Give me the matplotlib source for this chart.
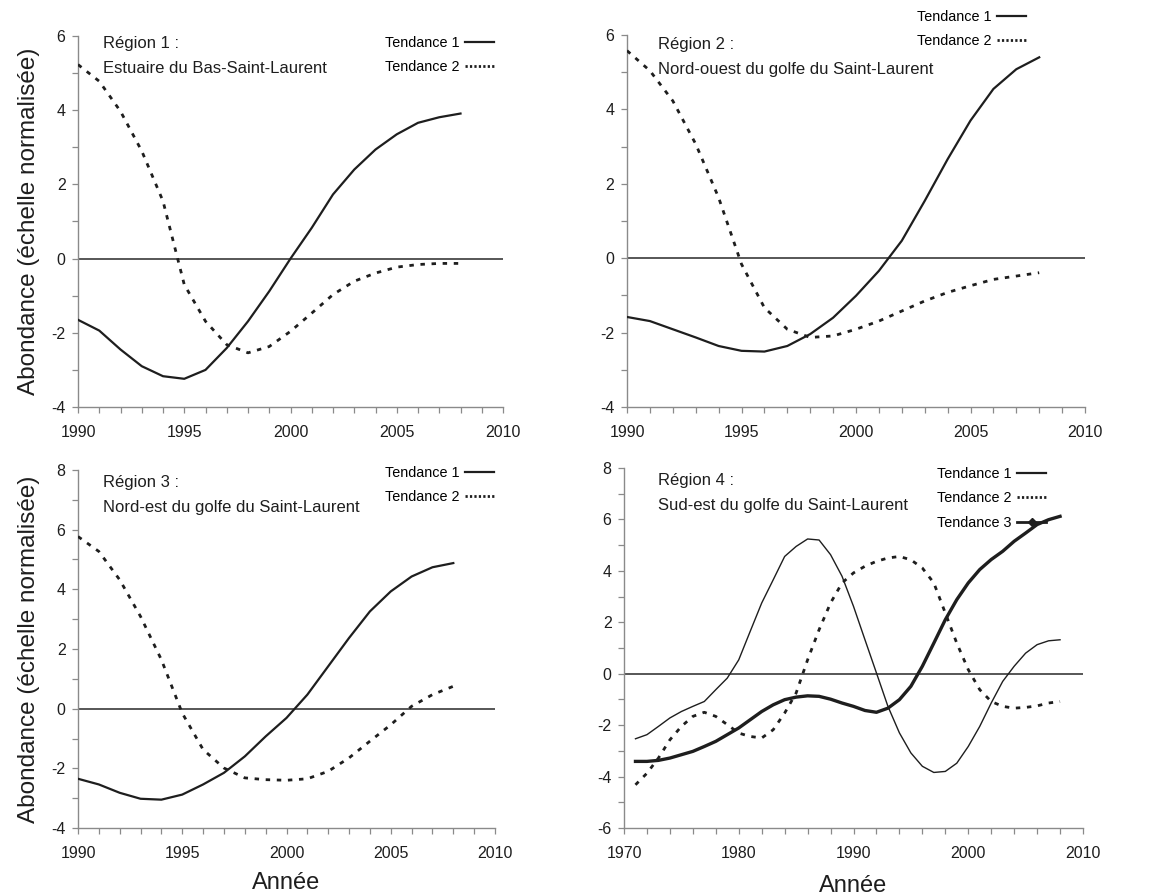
import matplotlib
matplotlib.use("Agg")
import matplotlib.pyplot as plt
from matplotlib.lines import Line2D
from matplotlib.ticker import MultipleLocator

plt.rcParams['font.family'] = ['Liberation Sans', 'DejaVu Sans']
plt.rcParams['axes.unicode_minus'] = False

# ---- data -------------------------------------------------------------
years_9008 = list(range(1990, 2009))
years_7108 = list(range(1971, 2009))

r1_t1 = [-1.65, -1.94, -2.45, -2.90, -3.17, -3.24, -3.00, -2.41, -1.69, -0.88,
         0.00, 0.83, 1.73, 2.40, 2.94, 3.35, 3.66, 3.81, 3.91]
r1_t2 = [5.23, 4.78, 3.97, 2.90, 1.55, -0.70, -1.69, -2.32, -2.54, -2.37,
         -1.96, -1.47, -0.97, -0.61, -0.39, -0.23, -0.16, -0.13, -0.13]

r2_t1 = [-1.58, -1.69, -1.91, -2.13, -2.36, -2.49, -2.51, -2.36, -2.04, -1.60,
         -1.01, -0.34, 0.47, 1.54, 2.66, 3.70, 4.55, 5.08, 5.40]
r2_t2 = [5.58, 5.04, 4.23, 3.07, 1.63, -0.16, -1.33, -1.91, -2.13, -2.09,
         -1.91, -1.69, -1.42, -1.15, -0.92, -0.74, -0.57, -0.48, -0.39]

r3_t1 = [-2.35, -2.54, -2.82, -3.02, -3.05, -2.88, -2.54, -2.15, -1.60, -0.93,
         -0.31, 0.47, 1.42, 2.37, 3.26, 3.93, 4.43, 4.74, 4.88]
r3_t2 = [5.77, 5.27, 4.32, 3.09, 1.64, -0.15, -1.37, -1.99, -2.32, -2.38,
         -2.40, -2.35, -2.10, -1.65, -1.09, -0.54, 0.08, 0.47, 0.75]

r4_t1 = [-2.53, -2.37, -2.05, -1.72, -1.47, -1.27, -1.08, -0.62, -0.17, 0.54,
         1.65, 2.75, 3.65, 4.56, 4.95, 5.24, 5.20, 4.63, 3.79, 2.62,
         1.32, 0.03, -1.27, -2.30, -3.08, -3.60, -3.84, -3.80, -3.48, -2.83,
         -2.05, -1.14, -0.30, 0.29, 0.80, 1.13, 1.28, 1.32]
r4_t2 = [-4.32, -3.87, -3.28, -2.57, -2.05, -1.66, -1.50, -1.66, -1.98, -2.31,
         -2.44, -2.50, -2.18, -1.53, -0.75, 0.54, 1.71, 2.75, 3.53, 3.92,
         4.18, 4.37, 4.50, 4.56, 4.43, 4.11, 3.53, 2.36, 1.19, 0.16,
         -0.62, -1.08, -1.27, -1.34, -1.31, -1.25, -1.14, -1.08]
r4_t3 = [-3.41, -3.41, -3.37, -3.28, -3.15, -3.02, -2.83, -2.63, -2.37, -2.11,
         -1.79, -1.47, -1.21, -1.01, -0.91, -0.86, -0.88, -0.99, -1.14, -1.27,
         -1.43, -1.50, -1.34, -1.01, -0.49, 0.29, 1.19, 2.10, 2.88, 3.53,
         4.05, 4.44, 4.76, 5.15, 5.47, 5.80, 5.99, 6.12]

region_titles = [
    ("Région 1 :", "Estuaire du Bas-Saint-Laurent"),
    ("Région 2 :", "Nord-ouest du golfe du Saint-Laurent"),
    ("Région 3 :", "Nord-est du golfe du Saint-Laurent"),
    ("Région 4 :", "Sud-est du golfe du Saint-Laurent"),
]
legend_labels = ["Tendance 1", "Tendance 2", "Tendance 3"]
y_label = "Abondance (échelle normalisée)"
x_label = "Année"

# ---- styling ----------------------------------------------------------
W, H = 1158, 896
INK = "#1e1e1e"
AXIS_GRAY = "#8a8a8a"
DOTTED = (0, (1.6, 2.4))

fig = plt.figure(figsize=(W / 100, H / 100), dpi=100)


def add_axes_px(left, top, right, bottom):
    return fig.add_axes([left / W, 1 - bottom / H, (right - left) / W, (bottom - top) / H])


def style_axes(ax, xlim, ylim, xmaj, xmin, ymaj, ymin):
    ax.set_xlim(*xlim)
    ax.set_ylim(*ylim)
    ax.xaxis.set_major_locator(MultipleLocator(xmaj))
    ax.xaxis.set_minor_locator(MultipleLocator(xmin))
    ax.yaxis.set_major_locator(MultipleLocator(ymaj))
    ax.yaxis.set_minor_locator(MultipleLocator(ymin))
    for side in ("top", "right"):
        ax.spines[side].set_visible(False)
    for side in ("left", "bottom"):
        ax.spines[side].set_color(AXIS_GRAY)
        ax.spines[side].set_linewidth(1.0)
    ax.tick_params(which="both", direction="out", length=4, width=0.9,
                   color=AXIS_GRAY, labelsize=11.5, labelcolor=INK)
    ax.tick_params(axis="x", which="major", pad=9)
    ax.tick_params(axis="y", which="major", pad=5)
    ax.axhline(0, color="#3a3a3a", lw=1.2, zorder=1)


def add_title(ax, lines, x, y):
    ax.text(x, y, lines[0], transform=ax.transAxes, fontsize=12, color=INK, va="center")
    ax.text(x, y - 25 / (ax.get_position().height * H), lines[1],
            transform=ax.transAxes, fontsize=12, color=INK, va="center")


def add_legend(ax, handles, anchor_px):
    fig_x, fig_y = anchor_px
    ax.legend(handles=handles, loc="upper right",
              bbox_to_anchor=(fig_x / W, 1 - fig_y / H), bbox_transform=fig.transFigure,
              frameon=False, markerfirst=False, fontsize=10.4, handlelength=2.0,
              handletextpad=0.4, labelspacing=0.72, borderaxespad=0, borderpad=0)


h_solid = Line2D([], [], color=INK, lw=1.6, label=legend_labels[0])
h_dot = Line2D([], [], color=INK, lw=2.0, ls=(0, (0.8, 0.8)), label=legend_labels[1])
h_diam = Line2D([], [], color=INK, lw=2.0, marker="D", markersize=4, label=legend_labels[2])

# ---- Region 1 ---------------------------------------------------------
ax1 = add_axes_px(78, 36, 503, 407)
style_axes(ax1, (1990, 2010), (-4, 6), 5, 1, 2, 1)
ax1.plot(years_9008, r1_t1, color=INK, lw=1.6, zorder=3)
ax1.plot(years_9008, r1_t2, color=INK, lw=2.0, ls=DOTTED, zorder=3)
add_title(ax1, region_titles[0], 0.058, 0.98)
add_legend(ax1, [h_solid, h_dot], (494, 36))
ax1.set_ylabel(y_label, fontsize=17.5, color=INK, labelpad=8)

# ---- Region 2 ---------------------------------------------------------
ax2 = add_axes_px(627, 35, 1085, 407)
style_axes(ax2, (1990, 2010), (-4, 6), 5, 1, 2, 1)
ax2.plot(years_9008, r2_t1, color=INK, lw=1.6, zorder=3)
ax2.plot(years_9008, r2_t2, color=INK, lw=2.0, ls=DOTTED, zorder=3)
add_title(ax2, region_titles[1], 0.068, 0.975)
add_legend(ax2, [h_solid, h_dot], (1026, 10))

# ---- Region 3 ---------------------------------------------------------
ax3 = add_axes_px(78, 470, 495, 828)
style_axes(ax3, (1990, 2010), (-4, 8), 5, 1, 2, 1)
ax3.plot(years_9008, r3_t1, color=INK, lw=1.6, zorder=3)
ax3.plot(years_9008, r3_t2, color=INK, lw=2.0, ls=DOTTED, zorder=3)
add_title(ax3, region_titles[2], 0.06, 0.965)
add_legend(ax3, [h_solid, h_dot], (494, 466))
ax3.set_ylabel(y_label, fontsize=17.5, color=INK, labelpad=8)
ax3.set_xlabel(x_label, fontsize=17, color=INK, labelpad=8)

# ---- Region 4 ---------------------------------------------------------
ax4 = add_axes_px(624, 468, 1083, 828)
style_axes(ax4, (1970, 2010), (-6, 8), 10, 2, 2, 1)
ax4.plot(years_7108, r4_t1, color=INK, lw=1.0, zorder=3)
ax4.plot(years_7108, r4_t2, color=INK, lw=2.0, ls=DOTTED, zorder=3)
ax4.plot(years_7108, r4_t3, color=INK, lw=2.4, zorder=4)
add_title(ax4, region_titles[3], 0.074, 0.965)
add_legend(ax4, [h_solid, h_dot, h_diam], (1046, 467))
ax4.set_xlabel(x_label, fontsize=17, color=INK, labelpad=10)

fig.savefig("out.png", dpi=100, facecolor="white")
